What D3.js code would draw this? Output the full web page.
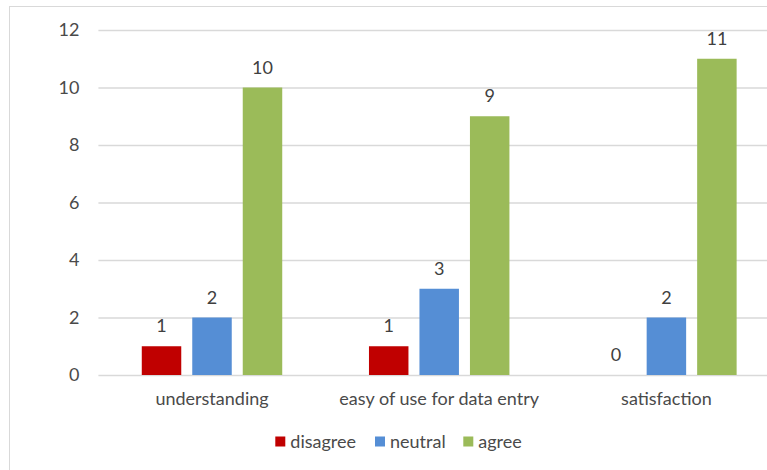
<!DOCTYPE html>
<html><head><meta charset="utf-8">
<script src="https://cdn.jsdelivr.net/npm/d3@7"></script>
<style>body{margin:0;background:#fff}svg{display:block}text{font-family:Lato,sans-serif}</style>
</head><body><svg id="c" width="767" height="470"></svg>
<script>
const categories = ["understanding", "easy of use for data entry", "satisfaction"];
const seriesNames = ["disagree", "neutral", "agree"];
const disagree = [1, 1, 0];
const neutral = [2, 3, 2];
const agree = [10, 9, 11];
const yTicks = [0, 2, 4, 6, 8, 10, 12];
const colors = ["#C00000", "#558ED5", "#9BBB59"];
const values = [disagree, neutral, agree];
const FS = "18px";

const svg = d3.select("#c");
svg.append("rect").attr("x", 9.5).attr("y", 6.5).attr("width", 800).attr("height", 500)
  .attr("fill", "#fff").attr("stroke", "#d9d9d9");

const x0 = d3.scaleBand().domain(categories).range([98.4, 780]);
const x1 = d3.scaleBand().domain(seriesNames).range([0, x0.bandwidth()]).paddingInner(0.218).paddingOuter(0.859);
const y = d3.scaleLinear().domain([0, 12]).range([375, 30]);

const gy = svg.append("g").attr("transform", "translate(98.4,0)")
  .call(d3.axisLeft(y).tickValues(yTicks).tickSize(-700).tickPadding(19));
gy.select(".domain").remove();
gy.selectAll(".tick line").attr("stroke", "#d9d9d9").attr("stroke-width", 1.3);
gy.selectAll(".tick text").attr("fill", "#4a4a4a").style("font-size", FS).style("font-family", "Lato, sans-serif");

const gx = svg.append("g").attr("transform", "translate(0,375)")
  .call(d3.axisBottom(x0).tickSize(0).tickPadding(17));
gx.select(".domain").remove();
gx.selectAll(".tick text").attr("fill", "#4a4a4a").style("font-size", FS).style("font-family", "Lato, sans-serif");

const groups = svg.append("g").selectAll("g").data(categories).join("g")
  .attr("transform", d => `translate(${x0(d)},0)`);
groups.each(function(cat, ci) {
  const g = d3.select(this);
  seriesNames.forEach((s, si) => {
    const v = values[si][ci];
    g.append("rect").attr("x", x1(s)).attr("width", x1.bandwidth())
      .attr("y", y(v)).attr("height", y(0) - y(v)).attr("fill", colors[si]);
    g.append("text").attr("x", x1(s) + x1.bandwidth() / 2).attr("y", y(v) - 14)
      .attr("text-anchor", "middle").attr("fill", "#404040").style("font-size", FS).text(v);
  });
});

const legX = [275.3, 375, 463.3];
const leg = svg.append("g");
seriesNames.forEach((s, i) => {
  leg.append("rect").attr("x", legX[i]).attr("y", 436.5).attr("width", 10).attr("height", 10).attr("fill", colors[i]);
  leg.append("text").attr("x", legX[i] + 15).attr("y", 447.5).attr("fill", "#4a4a4a").style("font-size", FS).text(s);
});
</script></body></html>
